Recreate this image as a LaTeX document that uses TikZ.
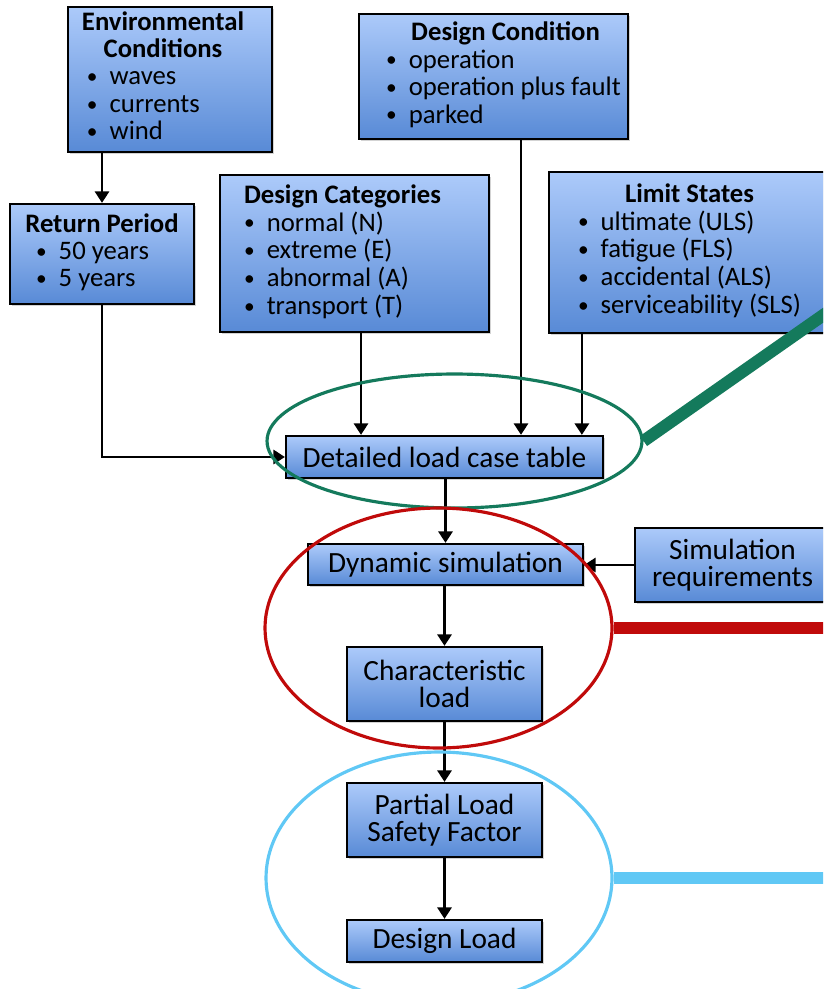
\documentclass[tikz,border=0pt]{standalone}
\usepackage{fontspec}
\setmainfont{Carlito}
\usetikzlibrary{arrows.meta,shapes.geometric,shadows}
\definecolor{boxtop}{RGB}{172,202,250}
\definecolor{boxbot}{RGB}{88,138,214}
\definecolor{ringgreen}{RGB}{20,122,92}
\definecolor{ringred}{RGB}{192,10,10}
\definecolor{ringblue}{RGB}{96,200,245}
\newcommand{\hd}[1]{\multicolumn{1}{@{}c@{}}{\textbf{#1}}}
\newcommand{\itm}[1]{\makebox[0.85em][l]{\raisebox{0.05em}{\scalebox{0.8}{\textbullet}}}#1}
\tikzset{
  blk/.style={draw=black, line width=1.3pt, top color=boxtop, bottom color=boxbot, inner sep=0pt, align=center,
    font=\fontsize{16.7}{15.4}\selectfont, drop shadow={shadow xshift=1.2pt, shadow yshift=-1.2pt, opacity=0.35}},
  lst/.style={blk, font=\fontsize{15.2}{15.6}\selectfont},
  conn/.style={-{Triangle[width=8pt,length=6.5pt]}, line width=1.5pt},
  ring/.style={draw, ellipse, line width=1.8pt, inner sep=0pt},
  band/.style={line width=7pt}
}

\begin{document}
\begin{tikzpicture}[x=0.02cm, y=-0.02cm]
\clip (0,0) rectangle (823,989);

\node[lst, minimum width=4.08cm, minimum height=2.9cm] (env) at (170,79.5)
  {\begin{tabular}{@{}l@{}}\hd{Environmental}\\\hd{Conditions}\\\hspace{0.1cm}\itm{waves}\\\hspace{0.1cm}\itm{currents}\\\hspace{0.1cm}\itm{wind}\end{tabular}\hspace*{0.28cm}};
\node[lst, minimum width=5.38cm, minimum height=2.5cm] (cond) at (493.5,76.5)
  {\begin{tabular}{@{\hspace{0.4cm}}l@{}}\hd{\hspace{0.9em}Design Condition}\\\itm{operation}\\\itm{operation plus fault}\\\itm{parked}\end{tabular}};
\node[lst, minimum width=3.68cm, minimum height=2cm] (ret) at (102,254)
  {\begin{tabular}{@{}l@{}}\hd{Return Period}\\\hspace{0.4em}\itm{50 years}\\\hspace{0.4em}\itm{5 years}\end{tabular}};
\node[lst, minimum width=5.38cm, minimum height=3.14cm] (cat) at (354.5,253.5)
  {\begin{tabular}{@{}l@{}}\hd{Design Categories}\\\itm{normal (N)}\\\itm{extreme (E)}\\\itm{abnormal (A)}\\\itm{transport (T)}\end{tabular}\hspace*{0.48cm}};
\node[lst, minimum width=5.62cm, minimum height=3.22cm] (lim) at (689.5,252.5)
  {\begin{tabular}{@{}l@{}}\hd{Limit States}\\\itm{ultimate (ULS)}\\\itm{fatigue (FLS)}\\\itm{accidental (ALS)}\\\itm{serviceability (SLS)}\end{tabular}};

\node[blk, minimum width=6.34cm, minimum height=0.84cm] (detail) at (444.5,457) {Detailed load case table};
\node[blk, minimum width=5.5cm, minimum height=0.82cm] (dyn) at (445.5,564.5) {Dynamic simulation};
\node[blk, minimum width=3.9cm, minimum height=1.48cm] (simreq) at (732.5,565) {Simulation\\requirements};
\node[blk, minimum width=3.9cm, minimum height=1.48cm] (char) at (444.5,684) {Characteristic\\load};
\node[blk, minimum width=3.9cm, minimum height=1.48cm] (partial) at (444.5,820) {Partial Load\\Safety Factor};
\node[blk, minimum width=3.9cm, minimum height=0.84cm] (dload) at (444.5,941) {Design Load};

\coordinate (catout) at ([xshift=0.13cm]cat.south);
\coordinate (condout) at ([xshift=0.55cm]cond.south);
\coordinate (limout) at ([xshift=0.68cm]lim.south west);

\draw[conn] (ret.north |- env.south) -- (ret.north);
\draw[conn] (ret.south) |- (detail.west);
\draw[conn] (catout) -- (catout |- detail.north);
\draw[conn] (condout) -- (condout |- detail.north);
\draw[conn] (limout) -- (limout |- detail.north);
\draw[conn] (detail.south -| dyn.north) -- (dyn.north);
\draw[conn] (simreq.west) -- (dyn.east |- simreq.west);
\draw[conn] (dyn.south -| char.north) -- (char.north);
\draw[conn] (char.south) -- (partial.north);
\draw[conn] (partial.south) -- (dload.north);

\node[ring, ringgreen, minimum width=7.5cm, minimum height=2.68cm] (grnring) at (454.5,441) {};
\node[ring, ringred, minimum width=6.94cm, minimum height=4.8cm] (redring) at (438.5,628) {};
\node[ring, ringblue, minimum width=6.92cm, minimum height=5.04cm] (bluring) at (439,878) {};

\coordinate (grnend) at (842,302);
\coordinate (redend) at (830,628);
\coordinate (bluend) at (830,878);
\draw[band, ringgreen] (grnring.east) -- (grnend);
\draw[band, ringred] (redring.east) -- (redend);
\draw[band, ringblue] (bluring.east) -- (bluend);
\end{tikzpicture}
\end{document}
